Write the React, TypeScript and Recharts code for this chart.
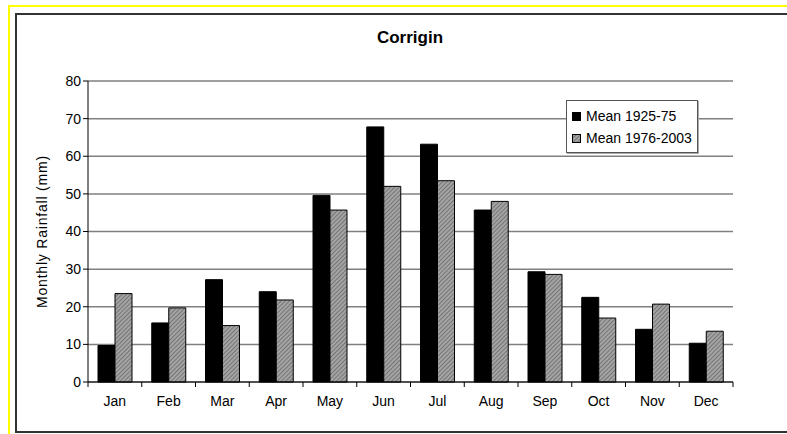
import React from "react";
import {
  BarChart,
  Bar,
  XAxis,
  YAxis,
  CartesianGrid,
  Legend,
} from "recharts";

const months = ["Jan", "Feb", "Mar", "Apr", "May", "Jun", "Jul", "Aug", "Sep", "Oct", "Nov", "Dec"];
const mean1925 = [9.7, 15.7, 27.2, 24, 49.6, 67.8, 63.2, 45.7, 29.3, 22.5, 14, 10.3];
const mean1976 = [23.5, 19.7, 15, 21.8, 45.7, 52, 53.5, 48, 28.6, 17, 20.7, 13.5];
const yTicks = [0, 10, 20, 30, 40, 50, 60, 70, 80];

const data = months.map((m, i) => ({ month: m, early: mean1925[i], late: mean1976[i] }));

const FONT = "'Liberation Sans', Arial, sans-serif";
const W = 787;
const H = 434;
const margin = { top: 81, right: 54, bottom: 22, left: 30 };
const step = (W - 88 - margin.right) / months.length;

// excel style: tick marks sit between the categories
const MonthTick = (props: any) => {
  const { x, y, payload, index } = props;
  return (
    <g>
      {index === 0 && <line x1={x - step / 2} y1={y - 8} x2={x - step / 2} y2={y - 3} stroke="#000" />}
      <line x1={x + step / 2} y1={y - 8} x2={x + step / 2} y2={y - 3} stroke="#000" />
      <text x={x} y={y + 16} textAnchor="middle" fontSize={14} fontFamily={FONT} fill="#000">
        {payload.value}
      </text>
    </g>
  );
};

const LegendBox = () => (
  <div
    style={{
      border: "1px solid #555",
      background: "#fff",
      padding: "4px 4px 3px 5px",
      fontFamily: FONT,
      fontSize: 14,
      boxShadow: "1px 1px 0 #aaa",
      whiteSpace: "nowrap",
    }}
  >
    <div style={{ display: "flex", alignItems: "center", height: 22 }}>
      <span style={{ width: 7, height: 7, background: "#000", border: "1px solid #000", marginRight: 5 }} />
      Mean 1925-75
    </div>
    <div style={{ display: "flex", alignItems: "center", height: 22 }}>
      <svg width={9} height={9} style={{ marginRight: 5 }}>
        <rect x={0.5} y={0.5} width={8} height={8} fill="url(#hatch)" stroke="#000" />
      </svg>
      Mean 1976-2003
    </div>
  </div>
);

export default function App() {
  return (
    <div style={{ position: "absolute", left: 0, top: 0, width: W, height: H, overflow: "hidden", background: "#fff" }}>
      <div style={{ position: "absolute", left: 8, top: 5, width: W, height: H, border: "2px solid #ffff00" }} />
      <div
        style={{ position: "absolute", left: 15, top: 13, width: W, height: 430 - 13 - 1, border: "2px solid #333" }}
      />
      <div
        style={{
          position: "absolute",
          left: 0,
          width: 820,
          top: 28,
          textAlign: "center",
          fontFamily: FONT,
          fontWeight: "bold",
          fontSize: 17,
        }}
      >
        Corrigin
      </div>
      <div style={{ position: "absolute", left: 0, top: 0 }}>
        <BarChart width={W} height={H} data={data} margin={margin} barGap={0} barSize={17}>
          <defs>
            <pattern id="hatch" width={3} height={3} patternUnits="userSpaceOnUse" patternTransform="rotate(45)">
              <rect width={3} height={3} fill="#a4a4a4" />
              <line x1={0} y1={0} x2={0} y2={3} stroke="#606060" strokeWidth={1.4} />
            </pattern>
          </defs>
          <CartesianGrid vertical={false} stroke="#808080" strokeWidth={1.5} />
          <XAxis
            dataKey="month"
            tick={<MonthTick />}
            tickLine={false}
            axisLine={{ stroke: "#000" }}
            height={30}
            interval={0}
          />
          <YAxis
            domain={[0, 80]}
            ticks={yTicks}
            width={58}
            tickSize={5}
            tickLine={{ stroke: "#000" }}
            axisLine={{ stroke: "#000" }}
            tick={{ fontSize: 14, fontFamily: FONT, fill: "#000" }}
            label={{
              value: "Monthly Rainfall (mm)",
              angle: -90,
              position: "insideLeft",
              offset: 12,
              style: { fontSize: 14, fontFamily: FONT, fill: "#000", textAnchor: "middle", letterSpacing: 0.8 },
            }}
          />
          <YAxis
            yAxisId="frame"
            orientation="right"
            width={0}
            tick={false}
            tickLine={false}
            axisLine={{ stroke: "#808080", strokeWidth: 1.5 }}
          />
          <Legend
            layout="vertical"
            align="center"
            verticalAlign="middle"
            content={<LegendBox />}
            wrapperStyle={{ position: "absolute", left: 566, top: 100, width: 132 }}
          />
          <Bar dataKey="early" name="Mean 1925-75" fill="#000" stroke="#000" isAnimationActive={false} />
          <Bar dataKey="late" name="Mean 1976-2003" fill="url(#hatch)" stroke="#000" isAnimationActive={false} />
        </BarChart>
      </div>
    </div>
  );
}
